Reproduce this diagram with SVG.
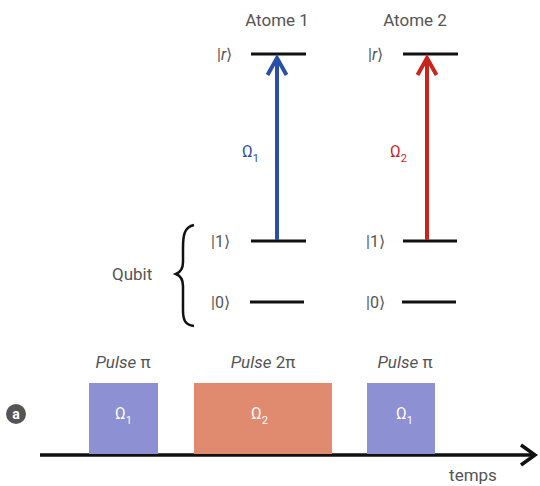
<svg xmlns="http://www.w3.org/2000/svg" width="540" height="486" viewBox="0 0 540 486">
  <style>
    .lbl { font-family: Roboto, "Liberation Sans", sans-serif; font-size: 17px; fill: #555; }
    .ket { font-family: Roboto, "Liberation Sans", sans-serif; font-size: 16px; fill: #555; }
    .lvl { stroke: #111; stroke-width: 3; }
    .om { font-family: Roboto, "Liberation Sans", sans-serif; font-size: 16px; }
    .sub { font-size: 11px; }
    .pbox-b { fill: #8d90d2; }
    .pbox-r { fill: #e08b70; }
  </style>
  <rect width="540" height="486" fill="#ffffff"/>

  <!-- atom titles -->
  <text class="lbl" x="277" y="26" text-anchor="middle">Atome 1</text>
  <text class="lbl" x="415" y="26" text-anchor="middle">Atome 2</text>

  <!-- energy levels, atom 1 -->
  <g id="atom1-r">
    <line class="lvl" x1="251" y1="54" x2="306" y2="54"/>
    <text class="ket" x="217" y="60">|<tspan font-style="italic">r</tspan>⟩</text>
  </g>
  <g id="atom1-1">
    <line class="lvl" x1="251" y1="241" x2="306" y2="241"/>
    <text class="ket" x="211" y="247">|1⟩</text>
  </g>
  <g id="atom1-0">
    <line class="lvl" x1="250" y1="302" x2="304" y2="302"/>
    <text class="ket" x="211" y="308">|0⟩</text>
  </g>

  <!-- energy levels, atom 2 -->
  <g id="atom2-r">
    <line class="lvl" x1="403" y1="54" x2="458" y2="54"/>
    <text class="ket" x="368" y="60">|<tspan font-style="italic">r</tspan>⟩</text>
  </g>
  <g id="atom2-1">
    <line class="lvl" x1="403" y1="241" x2="457" y2="241"/>
    <text class="ket" x="366" y="247">|1⟩</text>
  </g>
  <g id="atom2-0">
    <line class="lvl" x1="402" y1="302" x2="456" y2="302"/>
    <text class="ket" x="366" y="308">|0⟩</text>
  </g>

  <!-- qubit brace -->
  <g id="qubit">
    <path d="M194 225 C184 227 183 236 183 248 L183 262 C183 268 181 272 176 274 C181 276 183 280 183 286 L183 310 C183 320 185 325 194 326" fill="none" stroke="#111" stroke-width="2.5"/>
    <text class="lbl" x="112" y="280">Qubit</text>
  </g>

  <!-- transitions -->
  <g id="connectors" fill="none" stroke-width="4" stroke-linecap="butt">
    <g id="omega1" stroke="#2a4fa8">
      <line x1="277" y1="240" x2="277" y2="59"/>
      <polyline points="267.5,75 277,58 286.5,75" stroke-linejoin="miter"/>
    </g>
    <g id="omega2" stroke="#c9251c">
      <line x1="427" y1="240" x2="427" y2="59"/>
      <polyline points="417.5,75 427,58 436.5,75" stroke-linejoin="miter"/>
    </g>
    <g id="timeline" stroke="#111">
      <line x1="40" y1="455" x2="533" y2="455" stroke-width="3.5"/>
      <polyline points="521,445 535,455 521,465" stroke-width="3.5"/>
    </g>
  </g>

  <text class="om" x="242" y="157" fill="#2a4fa8">Ω<tspan class="sub" dy="5">1</tspan></text>
  <text class="om" x="390" y="157" fill="#c9251c">Ω<tspan class="sub" dy="5">2</tspan></text>

  <!-- pulse sequence -->
  <g id="pulse1">
    <rect class="pbox-b" x="89" y="383" width="69" height="71"/>
    <text class="lbl" x="123" y="368" text-anchor="middle"><tspan font-style="italic">Pulse</tspan> π</text>
    <text class="om" x="115" y="419" fill="#ffffff">Ω<tspan class="sub" dy="5">1</tspan></text>
  </g>
  <g id="pulse2">
    <rect class="pbox-r" x="194" y="383" width="138" height="71"/>
    <text class="lbl" x="263" y="368" text-anchor="middle"><tspan font-style="italic">Pulse</tspan> 2π</text>
    <text class="om" x="251" y="419" fill="#ffffff">Ω<tspan class="sub" dy="5">2</tspan></text>
  </g>
  <g id="pulse3">
    <rect class="pbox-b" x="367" y="383" width="68" height="71"/>
    <text class="lbl" x="405" y="368" text-anchor="middle"><tspan font-style="italic">Pulse</tspan> π</text>
    <text class="om" x="396" y="419" fill="#ffffff">Ω<tspan class="sub" dy="5">1</tspan></text>
  </g>

  <text class="lbl" x="473" y="481" text-anchor="middle">temps</text>

  <g id="panel-a">
    <circle cx="16" cy="414" r="10" fill="#555"/>
    <text x="16" y="419" text-anchor="middle" font-family="Roboto, 'Liberation Sans', sans-serif" font-size="14" font-weight="bold" fill="#ffffff">a</text>
  </g>
</svg>
